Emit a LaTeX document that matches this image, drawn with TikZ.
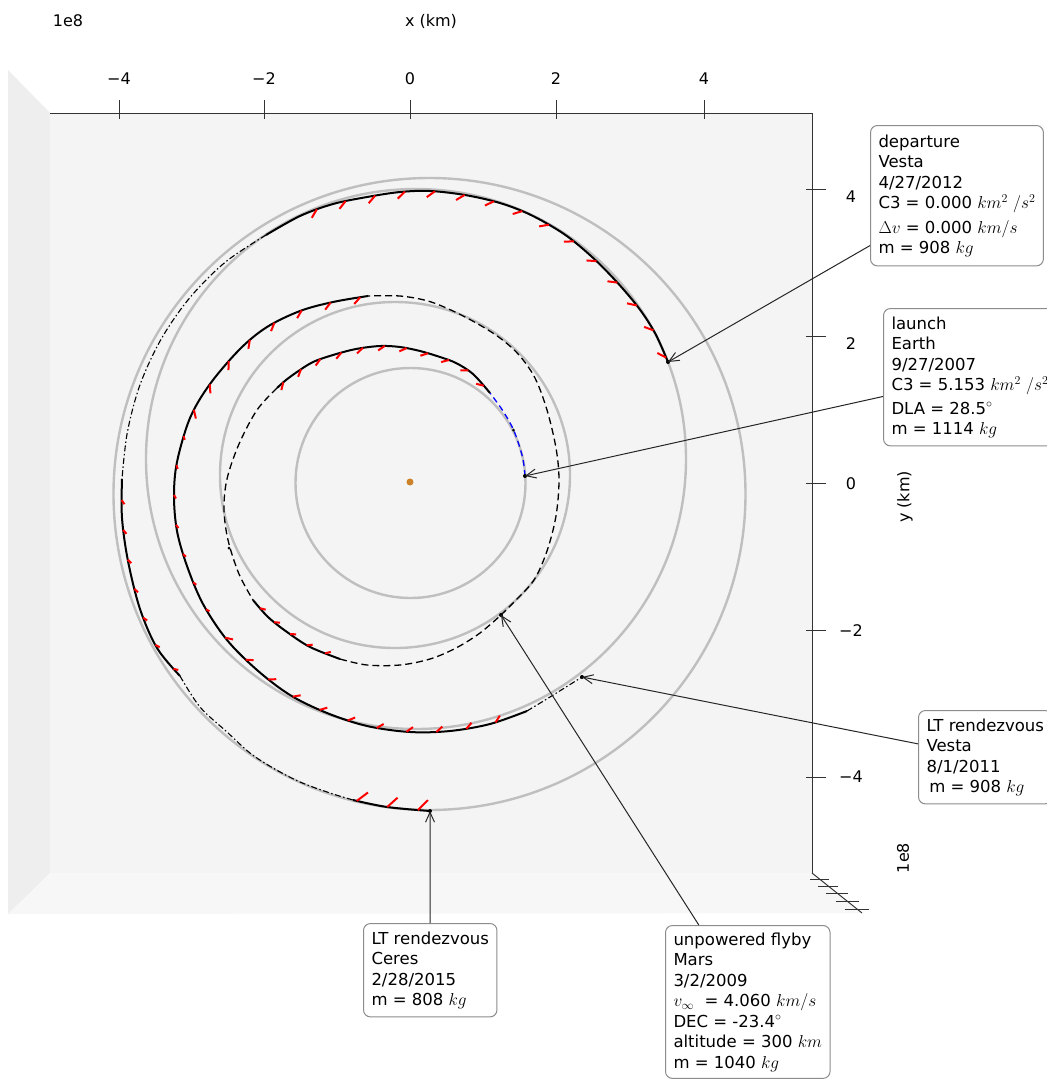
\documentclass[tikz,border=0pt]{standalone}
\usepackage{fontspec}
\setmainfont{DejaVu Sans}
\usetikzlibrary{arrows.meta,decorations.markings,calc}
\definecolor{sunc}{RGB}{204,130,40}
\definecolor{panemain}{RGB}{244,244,244}
\definecolor{paneleft}{RGB}{238,238,238}
\definecolor{panebot}{RGB}{247,247,247}
\begin{document}
\begin{tikzpicture}[x=1pt,y=-1pt,
  orbit/.style={draw=black!25,line width=2.4pt},
  thrust/.style={draw=black,line width=2pt},
  coast/.style={draw=black,line width=1.3pt,dash pattern=on 7pt off 4pt},
  coastdd/.style={draw=black,line width=1.1pt,dash pattern=on 6pt off 2.5pt on 1.5pt off 2.5pt},
  launchseg/.style={draw=blue,line width=1.3pt,dash pattern=on 6pt off 4pt},
  tmarks/.style n args={5}{postaction={decorate,decoration={markings,
     mark=between positions #1 and #2 step #3 with {\draw[red,line width=2pt,solid] (0,0) -- (#5:#4);}}}},
  evt/.style={fill=black,inner sep=0pt,minimum size=4pt,circle},
  ann/.style={draw=black!45,rounded corners=7pt,fill=white,line width=1pt,align=left,
     inner xsep=8pt,inner ysep=8pt,anchor=north west,font=\fontsize{16.5}{20.5}\selectfont},
  annarrow/.style={draw=black!85,line width=1pt,-{Straight Barb[length=10pt,width=9pt]}},
  axisline/.style={draw=black!80,line width=1pt},
  lab/.style={font=\fontsize{16}{18}\selectfont,inner sep=0pt}
]
\useasboundingbox (0,0) rectangle (1047,1080);
\fill[white] (0,0) rectangle (1047,1080);
% panes
\fill[paneleft] (8,70) -- (50,113) -- (50,873) -- (8,914) -- cycle;
\fill[panebot] (8,914) -- (50,873) -- (812,873) -- (862,913) -- cycle;
\fill[panemain] (50,113) rectangle (812,873);
% axes
\draw[axisline] (50,113) -- (812,113);
\draw[axisline] (812,113) -- (812,873);
\draw[axisline] (812,873) -- (862,913);
\foreach \x/\t [count=\i] in {119/{\textminus4},264/{\textminus2},410/0,556/2,704/4}{
  \draw[axisline] (\x,100) -- (\x,119);
  \node[lab] (xt\i) at (\x,79) {\t};
}
\foreach \y/\ly/\t [count=\i] in {189/197/4,336/344/2,483/484/0,630/631/{\textminus2},777/777/{\textminus4}}{
  \draw[axisline] (806,\y) -- (826,\y);
  \node[lab] (yt\i) at (851,\ly) {\t};
}
\foreach \y/\w [count=\i] in {879/19,886/20,893/22,901/23,909/24}{
  \draw[axisline] ({812+1.25*(\y-873)-\w/2},\y) -- ({812+1.25*(\y-873)+\w/2},\y);
}
\node[lab] (xlab) at (431,21) {x (km)};
\node[lab] (xexp) at (68,21) {1e8};
\node[lab,rotate=90] (ylab) at (905,497) {y (km)};
\node[lab,rotate=90] (yexp) at (903,858) {1e8};
% orbits
\draw[orbit] (410.5,483) circle[radius=115pt];
\draw[orbit] (395,475) ellipse[x radius=175pt,y radius=173pt];
\draw[orbit] (416,459) circle[radius=270pt];
\draw[orbit] (429.5,494) circle[radius=316pt];
% sun
\fill[sunc] (410,482) circle[radius=3.5pt];
% trajectory
\draw[launchseg] plot[smooth,tension=0.55] coordinates {(525,476) (522.5,457) (514,431) (503,411) (490,393)};
\draw[thrust,tmarks={0.04}{0.99}{22pt}{8pt}{35}] plot[smooth,tension=0.55] coordinates {(490,393) (473,374) (456,363) (440,357) (420,351) (400,347) (380,346) (356,349) (333,355) (313,362) (297,372) (286,380) (277,388)};
\draw[coast] plot[smooth,tension=0.55] coordinates {(277,388) (257,410) (239,444) (227,479) (224,509) (228,540) (239,574) (253,600)};
\draw[thrust,tmarks={0.1}{0.99}{20pt}{6pt}{35}] plot[smooth,tension=0.55] coordinates {(253,600) (268,617) (287,632) (310,647) (340,659)};
\draw[coast] plot[smooth,tension=0.55] coordinates {(340,659) (367,665) (400,665) (430,659) (456,648) (480,633) (501,615)};
\draw[coast] plot[smooth,tension=0.55] coordinates {(501,615) (515,601) (534,580) (547,551) (556,516) (559,480) (556,448) (547,410) (535,378) (519,355) (500,338) (478,324) (453,311) (428,301) (400,296) (368,296)};
\draw[thrust,
  tmarks={0.01}{0.28}{30pt}{9pt}{40},
  tmarks={0.31}{0.55}{30pt}{4pt}{30},
  tmarks={0.58}{0.99}{30pt}{8pt}{40}] plot[smooth,tension=0.55] coordinates {(368,296) (333,302) (300,311) (267,327) (240,349) (210,384) (190,418) (177,462) (174,496) (177,531) (187,566) (203,604) (227,640) (257,670) (290,695) (327,713) (367,726) (410,732) (450,731) (490,724) (527,711)};
\draw[coastdd] plot[smooth,tension=0.55] coordinates {(527,711) (550,697) (582,677)};
\draw[thrust,tmarks={0.01}{0.93}{30pt}{10pt}{40}] plot[smooth,tension=0.55] coordinates {(668,362) (655,333) (638,307) (615,280) (591,256) (564,234) (531,215) (500,203) (465,195) (430,191) (400,192) (367,197) (333,204) (300,216) (266,235)};
\draw[coastdd] plot[smooth,tension=0.55] coordinates {(266,235) (225.5,262) (190,297.5) (161.5,338.5) (140.3,384) (127.4,432) (122,479)};
\draw[thrust,tmarks={0.1}{0.99}{30pt}{5pt}{35}] plot[smooth,tension=0.55] coordinates {(122,479) (122,518) (128,561) (140,609) (157,648) (180,676)};
\draw[coastdd] plot[smooth,tension=0.55] coordinates {(180,676) (200,707) (227,732) (250,753) (273,768) (300,782) (330,793) (353,800)};
\draw[thrust,tmarks={0.05}{0.99}{31pt}{14pt}{50}] plot[smooth,tension=0.55] coordinates {(353,800) (387,807) (430,811)};
% events
\node[evt] (launch) at (525,476) {};
\node[evt] (mars) at (501,615) {};
\node[evt] (varr) at (582,677) {};
\node[evt] (vdep) at (668,362) {};
\node[evt] (ceres) at (430,811) {};
\node[evt,minimum size=3pt] (mid1) at (513.5,430) {};
\node[evt,minimum size=3pt] (mid2) at (229,548) {};
% annotations
\node[ann,inner ysep=9pt] (bA) at (870,125) {departure\\Vesta\\4/27/2012\\C3 = 0.000 $km^2\ /s^2$\\[4pt]$\Delta v$ = 0.000 $km/s$\\m = 908 $kg$};
\node[ann] (bB) at (883,308) {launch\\Earth\\9/27/2007\\C3 = 5.153 $km^2\ /s^2$\\[3pt]DLA = 28.5$^\circ$\\m = 1114 $kg$};
\node[ann] (bC) at (918,710) {LT rendezvous\\Vesta\\8/1/2011\\\,m = 908 $kg$};
\node[ann] (bD) at (363,923) {LT rendezvous\\Ceres\\2/28/2015\\m = 808 $kg$};
\node[ann,inner ysep=7pt] (bE) at (665,925) {unpowered flyby\\Mars\\3/2/2009\\$v_\infty$\ \ = 4.060 $km/s$\\DEC = -23.4$^\circ$\\altitude = 300 $km$\\m = 1040 $kg$};
\draw[annarrow] (bA) -- (vdep.center);
\draw[annarrow] (bB) -- (launch.center);
\draw[annarrow] (bC) -- (varr.center);
\draw[annarrow] (bD) -- (ceres.center);
\draw[annarrow] (bE) -- (mars.center);
\end{tikzpicture}
\end{document}
